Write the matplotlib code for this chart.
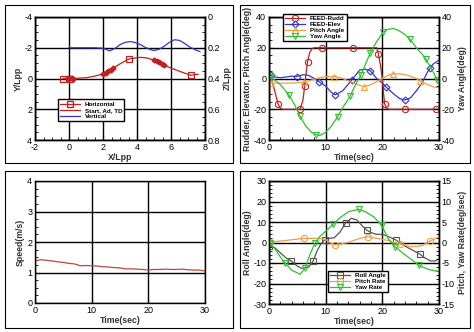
import matplotlib
matplotlib.use('Agg')
import matplotlib.pyplot as plt
from matplotlib.ticker import AutoMinorLocator, MultipleLocator
from matplotlib.lines import Line2D
from matplotlib.patches import Rectangle

plt.rcParams['font.family'] = ['Liberation Sans', 'DejaVu Sans']
plt.rcParams['font.size'] = 6.5
plt.rcParams['axes.unicode_minus'] = False

# ---- trajectory (X/Lpp, Y/Lpp, Z/Lpp)
hor_x = [-0.35, 0.05, 0.5, 1.0, 1.5, 2.0, 2.5, 3.0, 3.53, 4.2, 4.6, 5.0, 5.5, 6.0, 6.5, 7.16, 7.6]
hor_y = [0, 0, -0.02, -0.05, -0.15, -0.3, -0.6, -0.95, -1.27, -1.38, -1.33, -1.2, -0.9, -0.68, -0.47, -0.21, -0.28]
hor_marks = [0, 1, 8, 15]
sat_x = [-0.05, 0.05, 0.15, 0.25, 2.0, 2.15, 2.3, 2.45, 2.6, 5.0, 5.15, 5.3, 5.45, 5.6]
sat_y = [-0.02, -0.03, -0.02, 0, -0.3, -0.38, -0.47, -0.57, -0.67, -1.2, -1.13, -1.05, -0.97, -0.88]
sat_seg = [4, 9, 14]
ver_x = [0, 0.5, 1, 1.5, 2, 2.2, 2.4, 2.7, 3, 3.3, 3.6, 3.9, 4.2, 4.5, 4.8, 5.0, 5.3, 5.6, 5.9, 6.2, 6.5, 6.8, 7.1, 7.4, 7.7]
ver_z = [0.2, 0.2, 0.2, 0.2, 0.203, 0.212, 0.22, 0.205, 0.18, 0.165, 0.16, 0.166, 0.18, 0.198, 0.213,
         0.218, 0.21, 0.19, 0.165, 0.148, 0.152, 0.172, 0.195, 0.212, 0.225]

# ---- control / attitude
rud_t = [0, 0.5, 1.0, 1.6, 2.0, 2.5, 5.5, 6.0, 6.3, 6.6, 6.8, 7.2, 7.6, 8.0, 9.35, 14.9, 19.0, 19.3, 19.7,
         20.0, 20.2, 20.4, 20.8, 21.2, 24.0, 29.5, 30]
rud_v = [0, -1, -8, -16.5, -19.5, -20, -20, -14, -4.6, 5, 11, 17, 19.5, 20, 20, 20, 20, 16, 8, 0, -9, -16.5,
         -19.5, -20, -20, -20, -20]
rud_marks = [3, 6, 8, 10, 14, 15, 17, 21, 24, 25]
elev_t = [0, 0.3, 1, 2, 3, 4, 4.9, 6, 7, 8, 8.8, 10, 11, 11.7, 13, 14.6, 16, 17, 17.9, 19, 20, 20.7, 22, 23,
          24, 25, 26, 27, 28, 28.5, 29, 30]
elev_v = [2, 2, 1, 0.5, 1, 1.5, 1.3, 2.5, 2, 0, -2, -5, -9, -10.6, -8, -1, 5.5, 6, 5, 0, -3, -5.7, -10, -13,
          -14, -12.5, -8, -3, 4.5, 7, 9.5, 12]
elev_marks = [1, 6, 10, 13, 15, 18, 21, 24, 29]
pitch_t = [0, 0.3, 2, 4, 6.1, 7, 8, 9, 10, 11.5, 12, 13, 14, 15, 16, 16.7, 18, 19, 20, 21, 21.8, 23, 24, 25,
           26, 26.6, 28, 29, 30]
pitch_v = [-3, -3, -3, -3, -2.5, -1.5, -0.5, 0.5, 1.2, 1.2, 1.0, 0, -1.5, -3, -4.5, -5.3, -4, -2, 0, 2, 3,
           3, 2.5, 1.5, 0, -1.5, -4, -5.5, -6]
pitch_marks = [1, 4, 9, 15, 20, 25]
yaw_t = [0, 0.3, 1, 2, 3.5, 4.5, 5.5, 6.5, 7.5, 8.35, 9, 10, 11, 12.1, 13, 14.3, 15, 16.2, 17, 17.9, 19,
         20.1, 21, 22, 23, 24, 24.9, 26, 27, 27.7, 29, 29.7, 30]
yaw_v = [1, 1, -1, -4, -10.6, -17, -24.7, -31, -35, -36.6, -37, -35, -31, -25, -19, -11.7, -6, 2.3, 9, 16.8,
         24, 30, 32, 32.5, 31, 28.5, 25.5, 20, 16, 12.5, 4, -1, -2]
yaw_marks = [1, 4, 6, 9, 13, 15, 17, 19, 21, 26, 29, 31]

# ---- speed
spd_t = list(range(31))
spd_v = [1.38, 1.42, 1.40, 1.38, 1.35, 1.33, 1.30, 1.28, 1.22, 1.23, 1.22, 1.21, 1.19, 1.18, 1.16, 1.15,
         1.12, 1.12, 1.11, 1.10, 1.08, 1.10, 1.10, 1.11, 1.10, 1.10, 1.11, 1.09, 1.08, 1.08, 1.05]

# ---- roll / rates
roll_t = [0, 1, 2, 3, 3.9, 5, 5.7, 7, 7.8, 8.5, 9.2, 9.8, 10.5, 11.5, 12.5, 13.5, 14.5, 15.5, 16.5, 17.3, 18,
          19, 20, 21, 22.4, 23.5, 24.5, 25.5, 26.7, 27.5, 28.5, 29.3, 30]
roll_v = [-1.7, -2.5, -5, -7.5, -9, -11.5, -12.6, -12, -9, -4, -0.5, 1.2, 2, 2.3, 5, 9.4, 11.8, 11, 8, 6,
          4.8, 4, 4, 3, 1.2, -1, -2.5, -4, -5.8, -7.5, -9, -9, -8]
roll_marks = [0, 4, 8, 11, 15, 19, 24, 28]
prate_t = [0, 0.2, 3, 6.1, 9, 10, 11, 11.7, 14, 16, 17.4, 19, 21, 22, 23.2, 25, 26, 27, 28.5, 30]
prate_v = [0, 0.1, 0.5, 1, 1, 0.75, -0.25, -0.6, 0, 1, 1.4, 1, 0.5, 0, -0.3, -1, -1, -0.75, 0.4, 1.4]
prate_marks = [1, 3, 7, 10, 14, 18]
yrate_t = [0, 0.2, 1, 2, 2.8, 4, 5.5, 6.4, 7.2, 8.1, 9, 10, 11.3, 12.5, 14, 15.8, 17, 18.5, 19.9, 21, 22.3,
           24, 25.5, 26.4, 28, 29, 30]
yrate_v = [0, -0.2, -1.5, -3.5, -4.95, -6.75, -7.75, -6.15, -3, -0.2, 1.5, 2.75, 4.45, 6, 7.5, 8.1, 7.5,
           6.25, 4.2, 1, -1.1, -3, -4.5, -5.5, -6.5, -6.85, -7]
yrate_marks = [1, 4, 7, 9, 12, 15, 18, 20, 23]

RED = '#c02020'
BLUE = '#3535d0'
ORANGE = '#f0a040'
GREEN = '#30c030'
GRAY = '#555555'

fig = plt.figure(figsize=(4.74, 3.32), dpi=100)
W, H = 474, 332


def make_ax(l, t, r, b):
    return fig.add_axes([l / W, (H - b) / H, (r - l) / W, (b - t) / H])


def style(ax, right=False):
    ax.tick_params(which='both', direction='in', top=False, right=right, labelsize=6.5, pad=2)
    ax.tick_params(which='major', length=3.5, width=0.8)
    ax.tick_params(which='minor', length=2, width=0.6)
    for s in ax.spines.values():
        s.set_linewidth(1.0)


def frame(l, t, r, b):
    fig.patches.append(Rectangle((l / W, (H - b) / H), (r - l) / W, (b - t) / H, transform=fig.transFigure,
                                 fill=False, edgecolor='k', linewidth=0.8))


for box in [(5, 5, 233, 163), (240, 5, 470, 163), (5, 171, 233, 328), (240, 171, 470, 328)]:
    frame(*box)

lab = dict(fontsize=6.3, fontweight='bold', color='#333333')
legkw = dict(frameon=True, fancybox=False, edgecolor='k', framealpha=1, borderpad=0.3, labelspacing=0.1,
             handlelength=3.2, handletextpad=0.8, prop={'size': 4.5, 'weight': 'bold'})

# ---------- panel 1
ax1 = make_ax(35, 17, 205, 140)
ax1.plot(hor_x, hor_y, color=RED, lw=0.9, marker='s', ms=4, mfc='none', mew=0.9, markevery=hor_marks)
start = 0
for end in sat_seg:
    ax1.plot(sat_x[start:end], sat_y[start:end], color=RED, lw=2.2, marker='D', ms=2.5)
    start = end
ax1.set_xlim(-2, 8)
ax1.set_ylim(4, -4)
ax1.xaxis.set_major_locator(MultipleLocator(2))
ax1.yaxis.set_major_locator(MultipleLocator(2))
ax1.xaxis.set_minor_locator(AutoMinorLocator(4))
ax1.yaxis.set_minor_locator(AutoMinorLocator(4))
ax1.grid(True, which='major', color='k', lw=1.0)
ax1.set_axisbelow(True)
ax1.set_xlabel('X/Lpp', labelpad=1, **lab)
ax1.set_ylabel('Y/Lpp', labelpad=1, **lab)
style(ax1)
ax1r = ax1.twinx()
ax1r.plot(ver_x, ver_z, color=BLUE, lw=0.9)
ax1r.set_ylim(0.8, 0)
ax1r.yaxis.set_major_locator(MultipleLocator(0.2))
ax1r.yaxis.set_minor_locator(AutoMinorLocator(4))
ax1r.set_ylabel('Z/Lpp', labelpad=2, **lab)
style(ax1r, right=True)
ax1r.yaxis.set_major_formatter(plt.FuncFormatter(lambda v, p: '0' if abs(v) < 1e-9 else f'{v:.1f}'))
h1 = [Line2D([], [], color=RED, lw=0.9, marker='s', ms=4, mfc='none'),
      Line2D([], [], color=RED, lw=0.9), Line2D([], [], color=BLUE, lw=0.9)]
ax1r.legend(h1, ['Horizontal', 'Start, Ad, TD', 'Vertical'], loc='upper left',
            bbox_to_anchor=(0.115, 0.355), **legkw)

# ---------- panel 2
ax2 = make_ax(269, 17, 439, 140)
ax2.plot(rud_t, rud_v, color=RED, lw=0.9, marker='o', ms=4.5, mfc='none', mew=0.8, markevery=rud_marks,
         label='FEED-Rudd')
ax2.plot(elev_t, elev_v, color=BLUE, lw=0.9, marker='D', ms=3.5, mfc='none', mew=0.8, markevery=elev_marks,
         label='FEED-Elev')
ax2.plot(pitch_t, pitch_v, color=ORANGE, lw=0.9, marker='^', ms=4, mfc='none', mew=0.8,
         markevery=pitch_marks, label='Pitch Angle')
ax2.set_xlim(0, 30)
ax2.set_ylim(-40, 40)
ax2.xaxis.set_major_locator(MultipleLocator(10))
ax2.yaxis.set_major_locator(MultipleLocator(20))
ax2.xaxis.set_minor_locator(AutoMinorLocator(5))
ax2.yaxis.set_minor_locator(AutoMinorLocator(4))
ax2.grid(True, which='major', color='k', lw=1.0)
ax2.set_axisbelow(True)
ax2.set_xlabel('Time(sec)', labelpad=1, **lab)
ax2.set_ylabel('Rudder, Elevator, Pitch Angle(deg)', labelpad=1, **lab)
style(ax2)
ax2r = ax2.twinx()
ax2r.plot(yaw_t, yaw_v, color=GREEN, lw=0.9, marker='v', ms=4, mfc='none', mew=0.8, markevery=yaw_marks,
          label='Yaw Angle')
ax2r.set_ylim(-40, 40)
ax2r.yaxis.set_major_locator(MultipleLocator(20))
ax2r.yaxis.set_minor_locator(AutoMinorLocator(4))
ax2r.set_ylabel('Yaw Angle(deg)', labelpad=2, **lab)
style(ax2r, right=True)
hh = ax2.get_legend_handles_labels()
hy = ax2r.get_legend_handles_labels()
ax2r.legend(hh[0] + hy[0], hh[1] + hy[1], loc='upper left', bbox_to_anchor=(0.065, 1.05), **legkw)

# ---------- panel 3
ax3 = make_ax(35, 181, 205, 303)
ax3.plot(spd_t, spd_v, color='#c84040', lw=0.9)
ax3.set_xlim(0, 30)
ax3.set_ylim(0, 4)
ax3.xaxis.set_major_locator(MultipleLocator(10))
ax3.yaxis.set_major_locator(MultipleLocator(1))
ax3.yaxis.set_minor_locator(AutoMinorLocator(4))
ax3.grid(True, which='major', color='k', lw=1.0)
ax3.set_axisbelow(True)
ax3.set_xlabel('Time(sec)', labelpad=1, **lab)
ax3.set_ylabel('Speed(m/s)', labelpad=2, **lab)
style(ax3)

# ---------- panel 4
ax4 = make_ax(269, 181, 439, 304)
ax4.plot(roll_t, roll_v, color=GRAY, lw=0.9, marker='s', ms=4, mfc='none', mew=0.8, markevery=roll_marks,
         label='Roll Angle')
ax4.set_xlim(0, 30)
ax4.set_ylim(-30, 30)
ax4.xaxis.set_major_locator(MultipleLocator(10))
ax4.yaxis.set_major_locator(MultipleLocator(10))
ax4.xaxis.set_minor_locator(AutoMinorLocator(5))
ax4.yaxis.set_minor_locator(AutoMinorLocator(5))
ax4.grid(True, which='major', color='k', lw=1.0)
ax4.set_axisbelow(True)
ax4.set_xlabel('Time(sec)', labelpad=1, **lab)
ax4.set_ylabel('Roll Angle(deg)', labelpad=1, **lab)
style(ax4)
ax4r = ax4.twinx()
ax4r.plot(prate_t, prate_v, color=ORANGE, lw=0.9, marker='o', ms=4.5, mfc='none', mew=0.8,
          markevery=prate_marks, label='Pitch Rate')
ax4r.plot(yrate_t, yrate_v, color=GREEN, lw=0.9, marker='v', ms=4, mfc='none', mew=0.8,
          markevery=yrate_marks, label='Yaw Rate')
ax4r.set_ylim(-15, 15)
ax4r.yaxis.set_major_locator(MultipleLocator(5))
ax4r.yaxis.set_minor_locator(AutoMinorLocator(5))
ax4r.set_ylabel('Pitch, Yaw Rate(deg/sec)', labelpad=2, **lab)
style(ax4r, right=True)
h4 = ax4.get_legend_handles_labels()
h4r = ax4r.get_legend_handles_labels()
ax4r.legend(h4[0] + h4r[0], h4[1] + h4r[1], loc='upper left', bbox_to_anchor=(0.33, 0.293), **legkw)

fig.savefig('out.png', dpi=100)
